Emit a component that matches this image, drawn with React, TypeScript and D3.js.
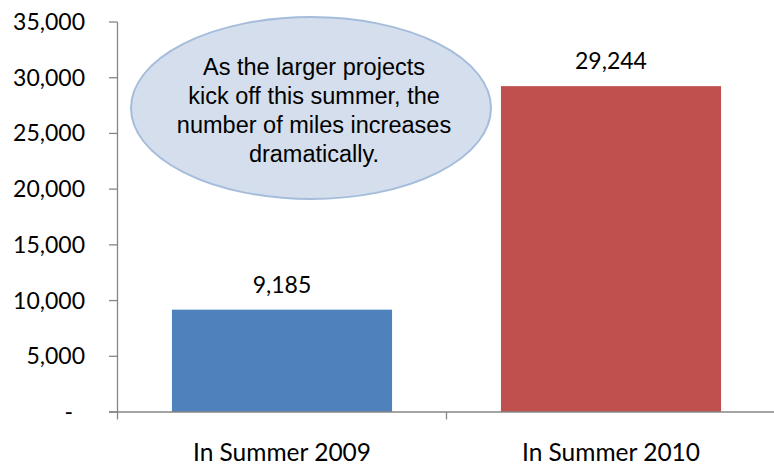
import * as d3 from "d3";

const categories = ["In Summer 2009", "In Summer 2010"];
const miles = [9185, 29244];
const yTicks = [0, 5000, 10000, 15000, 20000, 25000, 30000, 35000];
const calloutLines = [
  "As the larger projects",
  "kick off this summer, the",
  "number of miles increases",
  "dramatically.",
];

const barColors = ["#4F81BD", "#C0504D"];
const axisColor = "#868686";
const labelFont = "Lato, 'Open Sans', sans-serif";

export default function App() {
  const width = 774;
  const height = 465;
  const margin = { top: 22, right: -1.5, bottom: 53, left: 117.5 };

  const x = d3
    .scaleBand<string>()
    .domain(categories)
    .range([margin.left, width - margin.right])
    .paddingInner(0.331)
    .paddingOuter(0.1655);
  const step = x.step();
  const y = d3
    .scaleLinear()
    .domain([0, 35000])
    .range([height - margin.bottom, margin.top]);

  const fmt = (v: number) => (v === 0 ? "-" : d3.format(",")(v));
  const y0 = y(0);
  const xBounds = [margin.left, margin.left + step, margin.left + 2 * step];

  return (
    <svg
      width={width}
      height={height}
      style={{ position: "absolute", left: 0, top: 0, background: "#fff" }}
    >
      {/* bars */}
      {categories.map((c, i) => (
        <rect
          key={c}
          x={x(c)}
          y={y(miles[i])}
          width={x.bandwidth()}
          height={y0 - y(miles[i])}
          fill={barColors[i]}
        />
      ))}

      {/* value labels */}
      {categories.map((c, i) => (
        <text
          key={c}
          x={(x(c) as number) + x.bandwidth() / 2}
          y={y(miles[i]) - 17}
          textAnchor="middle"
          fontFamily={labelFont}
          fontSize={23}
          fill="#000"
        >
          {d3.format(",")(miles[i])}
        </text>
      ))}

      {/* y axis */}
      <line
        x1={margin.left}
        x2={margin.left}
        y1={y(35000)}
        y2={y0}
        stroke={axisColor}
        strokeWidth={1.3}
      />
      {yTicks.map((t) => (
        <g key={t}>
          <line
            x1={margin.left - 8.5}
            x2={margin.left}
            y1={y(t)}
            y2={y(t)}
            stroke={axisColor}
            strokeWidth={1.3}
          />
          <text
            x={t === 0 ? 73 : 85}
            y={y(t) + 8}
            textAnchor="end"
            fontFamily={labelFont}
            fontSize={23}
            fill="#000"
          >
            {fmt(t)}
          </text>
        </g>
      ))}

      {/* x axis */}
      <line
        x1={margin.left - 8.5}
        x2={width}
        y1={y0}
        y2={y0}
        stroke={axisColor}
        strokeWidth={1.3}
      />
      {xBounds.map((bx, i) => (
        <line
          key={i}
          x1={bx}
          x2={bx}
          y1={y0}
          y2={y0 + 7.5}
          stroke={axisColor}
          strokeWidth={1.3}
        />
      ))}
      {categories.map((c) => (
        <text
          key={c}
          x={(x(c) as number) + x.bandwidth() / 2}
          y={461}
          textAnchor="middle"
          fontFamily={labelFont}
          fontSize={24.5}
          fill="#000"
        >
          {c}
        </text>
      ))}

      {/* callout */}
      <ellipse
        cx={311}
        cy={108}
        rx={180}
        ry={91}
        fill="#D4DEEC"
        stroke="#A5BDDB"
        strokeWidth={2}
      />
      {calloutLines.map((line, i) => (
        <text
          key={i}
          x={314}
          y={75 + i * 29}
          textAnchor="middle"
          fontFamily="'Liberation Sans', Arial, sans-serif"
          fontSize={23.5}
          fill="#000"
        >
          {line}
        </text>
      ))}
    </svg>
  );
}
